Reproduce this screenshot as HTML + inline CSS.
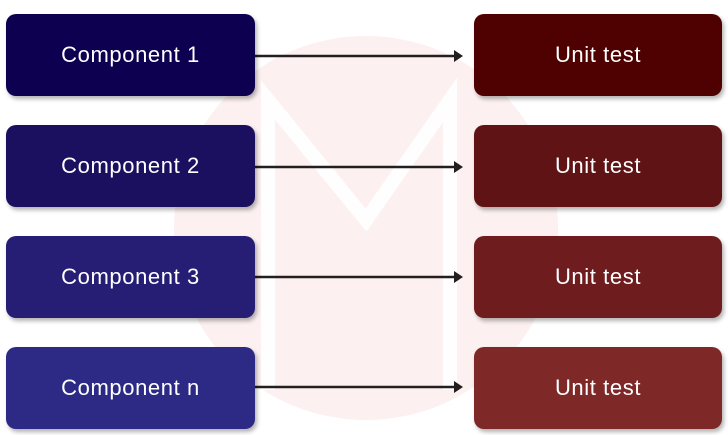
<!DOCTYPE html>
<html><head><style>
html,body{margin:0;padding:0;background:#fff;}
#c{position:relative;width:728px;height:435px;overflow:hidden;font-family:"Liberation Sans",sans-serif;}
.b{position:absolute;height:82px;border-radius:10px;color:#fff;font-size:22px;letter-spacing:0.6px;display:flex;align-items:center;justify-content:center;box-shadow:2px 3px 4px rgba(0,0,0,0.3);}
.l{left:6px;width:249px;}
.r{left:474px;width:248px;}
</style></head><body><div id="c">
<svg width="728" height="435" style="position:absolute;left:0;top:0">
<circle cx="366" cy="228" r="192" fill="#fcf0f0"/>
<polyline points="268,390 268,100 366,220 450,100 450,390" fill="none" stroke="#fff" stroke-width="14" opacity="0.9"/>
<g stroke="#231f20" stroke-width="2.5">
<line x1="255" y1="56" x2="456" y2="56"/><line x1="255" y1="167" x2="456" y2="167"/>
<line x1="255" y1="277" x2="456" y2="277"/><line x1="255" y1="387" x2="456" y2="387"/>
</g>
<g fill="#231f20">
<polygon points="463,56 454,50 454,62"/><polygon points="463,167 454,161 454,173"/>
<polygon points="463,277 454,271 454,283"/><polygon points="463,387 454,381 454,393"/>
</g>
</svg>
<div class="b l" style="top:14px;background:#0e0050">Component 1</div>
<div class="b l" style="top:125px;background:#1b0f60">Component 2</div>
<div class="b l" style="top:236px;background:#261e75">Component 3</div>
<div class="b l" style="top:347px;background:#2c2a85">Component n</div>
<div class="b r" style="top:14px;background:#4f0000">Unit test</div>
<div class="b r" style="top:125px;background:#5f1314">Unit test</div>
<div class="b r" style="top:236px;background:#6e1c1e">Unit test</div>
<div class="b r" style="top:347px;background:#7e2828">Unit test</div>
</div></body></html>
